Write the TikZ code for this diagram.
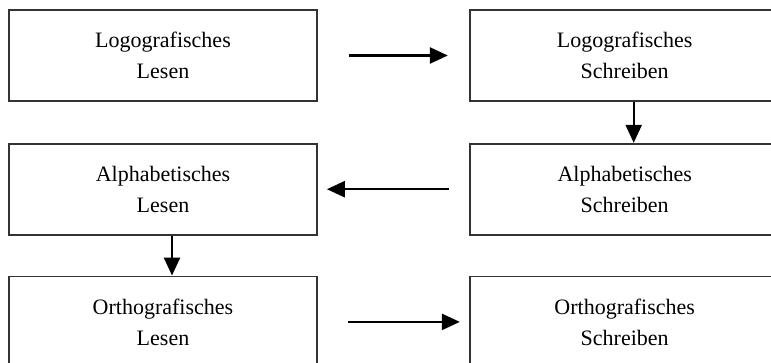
\documentclass[tikz,border=0pt]{standalone}
\usepackage{fontspec}
\setmainfont{Liberation Serif}
\usetikzlibrary{arrows.meta,positioning}

\begin{document}
\begin{tikzpicture}[->,>={Triangle[length=18pt,width=16pt]},line width=2.4pt,
                    node distance=40pt and 151pt]
	\tikzset{phase/.style={draw=black!80,line width=1.7pt,minimum width=308pt,minimum height=91pt,
	         align=center,font=\fontsize{22}{31}\selectfont,inner sep=0pt}}
	\useasboundingbox (0pt,0pt) rectangle (771pt,-363pt);

	\node[phase]	(LL)	at (163pt,-55.5pt)	{Logografisches\\Lesen};
	\node[phase,minimum width=310pt]	(LS)	[right=of LL]	{Logografisches\\Schreiben};
	\node[phase]	(AL)	[below=41pt of LL]	{Alphabetisches\\Lesen};
	\node[phase,minimum width=310pt]	(AS)	[below=41pt of LS]	{Alphabetisches\\Schreiben};
	\node[phase]	(OL)	[below=40pt of AL]	{Orthografisches\\Lesen};
	\node[phase,minimum width=310pt]	(OS)	[below=40pt of AS]	{Orthografisches\\Schreiben};

	\draw[shorten <=31pt,shorten >=21pt] (LL) -- (LS);
	\draw ([xshift=9pt]LS.south) -- ([xshift=9pt]AS.north);
	\draw[shorten <=20pt,shorten >=9pt] (AS) -- (AL);
	\draw ([xshift=9pt]AL.south) -- ([xshift=9pt]OL.north);
	\draw[shorten <=30pt,shorten >=9pt] (OL) -- (OS);
\end{tikzpicture}
\end{document}
